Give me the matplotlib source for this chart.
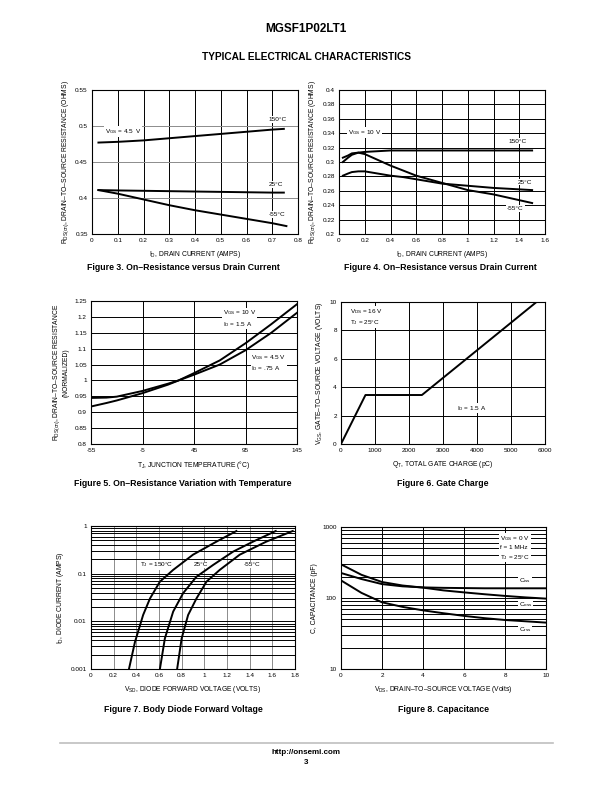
import numpy as np
import matplotlib
matplotlib.use("Agg")
import matplotlib.pyplot as plt

plt.rcParams['font.family'] = ['Liberation Sans', 'DejaVu Sans']
plt.rcParams['mathtext.fontset'] = 'custom'
plt.rcParams['mathtext.rm'] = 'Liberation Sans'
plt.rcParams['mathtext.it'] = 'Liberation Sans:italic'
plt.rcParams['mathtext.bf'] = 'Liberation Sans:bold'

# ---- Figure 3 : RDS(on) vs ID, VGS = 4.5 V
f3_id = [0.025, 0.1, 0.2, 0.3, 0.4, 0.5, 0.6, 0.7, 0.745]
f3_150 = [0.477, 0.478, 0.480, 0.483, 0.486, 0.489, 0.492, 0.495, 0.496]
f3_25 = [0.411, 0.4105, 0.410, 0.4095, 0.409, 0.4085, 0.408, 0.4075, 0.4075]
f3_id_m55 = [0.025, 0.1, 0.2, 0.3, 0.4, 0.5, 0.6, 0.7, 0.755]
f3_m55 = [0.411, 0.406, 0.398, 0.390, 0.383, 0.377, 0.371, 0.365, 0.361]

# ---- Figure 4 : RDS(on) vs ID, VGS = 10 V
f4_id = [0.03, 0.07, 0.1, 0.15, 0.2, 0.3, 0.4, 0.5, 0.6, 0.8, 1.0, 1.2, 1.4, 1.5]
f4_150 = [0.300, 0.306, 0.310, 0.313, 0.314, 0.315, 0.316, 0.316, 0.316, 0.316, 0.316, 0.316, 0.316, 0.316]
f4_25 = [0.281, 0.284, 0.286, 0.287, 0.287, 0.284, 0.281, 0.279, 0.276, 0.270, 0.267, 0.264, 0.262, 0.261]
f4_m55 = [0.306, 0.309, 0.312, 0.313, 0.311, 0.303, 0.295, 0.288, 0.281, 0.271, 0.261, 0.255, 0.247, 0.243]

# ---- Figure 5 : normalized RDS(on) vs TJ
f5_tj = [-55, -40, -30, -5, 20, 30, 45, 70, 95, 120, 145]
f5_10v = [0.918, 0.929, 0.937, 0.960, 0.987, 1.000, 1.023, 1.063, 1.117, 1.177, 1.240]
f5_45v = [0.945, 0.946, 0.949, 0.967, 0.990, 1.000, 1.018, 1.050, 1.095, 1.150, 1.213]

# ---- Figure 6 : gate charge
f6_q = [0, 720, 2380, 5750]
f6_vgs = [0, 3.45, 3.45, 10.0]

# ---- Figure 7 : body diode forward voltage
f7_i = [0.001, 0.0037, 0.0136, 0.03, 0.068, 0.12, 0.25, 0.47, 0.785]
f7_v150 = [0.335, 0.388, 0.46, 0.52, 0.608, 0.725, 0.90, 1.107, 1.283]
f7_i25 = [0.001, 0.0044, 0.016, 0.039, 0.086, 0.152, 0.29, 0.47, 0.785]
f7_v25 = [0.608, 0.652, 0.725, 0.813, 0.93, 1.077, 1.254, 1.43, 1.63]
f7_im55 = [0.001, 0.0044, 0.0136, 0.03, 0.068, 0.12, 0.25, 0.47, 0.785]
f7_vm55 = [0.76, 0.80, 0.857, 0.93, 1.019, 1.136, 1.312, 1.547, 1.78]

# ---- Figure 8 : capacitance
f8_vds = [0, 1, 2, 3, 4, 5, 6, 7, 8, 9, 10]
f8_ciss = [225, 185, 157, 146, 141, 139, 138, 137, 137, 137, 137]
f8_coss = [298, 212, 168, 150, 140, 128, 120, 113, 107, 102, 98]
f8_crss = [177, 118, 87, 75, 67, 61, 56, 52, 49, 47, 45]


def sub(s):
    return r'$\mathregular{_{%s}}$' % s


RDS = 'R' + sub('DS(on)') + ', DRAIN\u2013TO\u2013SOURCE RESISTANCE'
TS = 4.6   # tick font size
LS = 4.9   # label font size
LW = 1.4   # curve width
box = dict(fc='white', ec='none', pad=0.6)


def frame(ax, xlim, ylim, xt, xtl, yt, ytl, xlabel, ylabel, vcol='k', hcol='k', logy=False):
    if logy:
        ax.set_yscale('log')
    ax.set_xlim(xlim)
    ax.set_ylim(ylim)
    ax.set_xticks(xt)
    ax.set_xticklabels(xtl)
    ax.set_yticks(yt)
    ax.set_yticklabels(ytl)
    if logy:
        ax.yaxis.set_minor_locator(matplotlib.ticker.LogLocator(10, subs=np.arange(2, 10)))
        ax.yaxis.set_minor_formatter(matplotlib.ticker.NullFormatter())
        ax.grid(axis='y', which='both', color=hcol, lw=0.7)
    else:
        ax.grid(axis='y', color=hcol, lw=0.7)
    ax.grid(axis='x', color=vcol, lw=0.7)
    ax.tick_params(which='both', length=0, labelsize=TS, pad=3)
    for s in ax.spines.values():
        s.set_linewidth(0.8)
    ax.set_xlabel(xlabel, fontsize=LS, labelpad=4)
    ax.set_ylabel(ylabel, fontsize=LS, labelpad=3)
    ax.set_axisbelow(True)


fig = plt.figure(figsize=(6.12, 7.92), dpi=100)

fig.text(0.5, 1 - 29 / 792, 'MGSF1P02LT1', ha='center', va='center', fontsize=8.5, fontweight='bold')
fig.text(0.5, 1 - 57 / 792, 'TYPICAL ELECTRICAL CHARACTERISTICS', ha='center', va='center',
         fontsize=7.3, fontweight='bold')

# Figure 3
ax = fig.add_axes([92 / 612, 1 - 234 / 792, 206 / 612, 144 / 792])
frame(ax, (0, 0.8), (0.35, 0.55),
      [0, 0.1, 0.2, 0.3, 0.4, 0.5, 0.6, 0.7, 0.8], ['0', '0.1', '0.2', '0.3', '0.4', '0.5', '0.6', '0.7', '0.8'],
      [0.35, 0.4, 0.45, 0.5, 0.55], ['0.35', '0.4', '0.45', '0.5', '0.55'],
      'I' + sub('D') + ', DRAIN CURRENT (AMPS)', RDS + ' (OHMS)', hcol='0.55')
ax.plot(f3_id, f3_150, 'k', lw=LW, zorder=4)
ax.plot(f3_id, f3_25, 'k', lw=LW, zorder=4)
ax.plot(f3_id_m55, f3_m55, 'k', lw=LW, zorder=4)
ax.text(0.05, 0.492, 'V' + sub('GS') + ' = 4.5  V', fontsize=TS, va='center', bbox=box, zorder=3)
ax.text(0.72, 0.509, '150°C', fontsize=TS, ha='center', va='center', bbox=box, zorder=3)
ax.text(0.715, 0.419, '25°C', fontsize=TS, ha='center', va='center', bbox=box, zorder=3)
ax.text(0.72, 0.377, '-55°C', fontsize=TS, ha='center', va='center', bbox=box, zorder=3)
fig.text(183 / 612, 1 - 268 / 792, 'Figure 3. On\u2013Resistance versus Drain Current',
         ha='center', va='center', fontsize=6.3, fontweight='bold')

# Figure 4
ax = fig.add_axes([339 / 612, 1 - 234 / 792, 206 / 612, 144 / 792])
yt4 = [0.2, 0.22, 0.24, 0.26, 0.28, 0.3, 0.32, 0.34, 0.36, 0.38, 0.4]
frame(ax, (0, 1.6), (0.2, 0.4),
      [0, 0.2, 0.4, 0.6, 0.8, 1.0, 1.2, 1.4, 1.6], ['0', '0.2', '0.4', '0.6', '0.8', '1', '1.2', '1.4', '1.6'],
      yt4, ['%g' % v for v in yt4],
      'I' + sub('D') + ', DRAIN CURRENT (AMPS)', RDS + ' (OHMS)')
ax.plot(f4_id, f4_150, 'k', lw=LW, zorder=4)
ax.plot(f4_id, f4_25, 'k', lw=LW, zorder=4)
ax.plot(f4_id, f4_m55, 'k', lw=LW, zorder=4)
ax.text(0.07, 0.341, 'V' + sub('GS') + ' = 10 V', fontsize=TS, va='center', bbox=box, zorder=3)
ax.text(1.39, 0.329, '150°C', fontsize=TS, ha='center', va='center', bbox=box, zorder=3)
ax.text(1.44, 0.272, '25°C', fontsize=TS, ha='center', va='center', bbox=box, zorder=3)
ax.text(1.37, 0.235, '-55°C', fontsize=TS, ha='center', va='center', bbox=box, zorder=3)
fig.text(440 / 612, 1 - 267 / 792, 'Figure 4. On\u2013Resistance versus Drain Current',
         ha='center', va='center', fontsize=6.3, fontweight='bold')

# Figure 5
ax = fig.add_axes([91 / 612, 1 - 444 / 792, 206 / 612, 143 / 792])
yt5 = [0.8, 0.85, 0.9, 0.95, 1.0, 1.05, 1.1, 1.15, 1.2, 1.25]
frame(ax, (-55, 145), (0.8, 1.25),
      [-55, -5, 45, 95, 145], ['-55', '-5', '45', '95', '145'],
      yt5, ['%g' % v for v in yt5],
      'T' + sub('J') + ', JUNCTION TEMPERATURE (°C)', RDS + '\n(NORMALIZED)')
ax.plot(f5_tj, f5_10v, 'k', lw=LW, zorder=4)
ax.plot(f5_tj, f5_45v, 'k', lw=LW, zorder=4)
ax.text(73, 1.195, 'V' + sub('GS') + ' = 10 V\nI' + sub('D') + ' = 1.5 A', fontsize=TS, va='center',
        linespacing=1.4, bbox=box, zorder=3)
ax.text(100.7, 1.054, 'V' + sub('GS') + ' = 4.5 V\nI' + sub('D') + ' = .75 A', fontsize=TS, va='center',
        linespacing=1.4, bbox=box, zorder=3)
fig.text(183 / 612, 1 - 483 / 792, 'Figure 5. On\u2013Resistance Variation with Temperature',
         ha='center', va='center', fontsize=6.3, fontweight='bold')

# Figure 6
ax = fig.add_axes([341 / 612, 1 - 444 / 792, 204 / 612, 142 / 792])
frame(ax, (0, 6000), (0, 10),
      [0, 1000, 2000, 3000, 4000, 5000, 6000], ['0', '1000', '2000', '3000', '4000', '5000', '6000'],
      [0, 2, 4, 6, 8, 10], ['0', '2', '4', '6', '8', '10'],
      'Q' + sub('T') + ', TOTAL GATE CHARGE (pC)',
      'V' + sub('GS') + ', GATE\u2013TO\u2013SOURCE VOLTAGE (VOLTS)')
ax.plot(f6_q, f6_vgs, 'k', lw=LW, zorder=4)
ax.text(274, 8.95, 'V' + sub('DS') + ' = 16 V\nT' + sub('J') + ' = 25°C', fontsize=TS, va='center',
        linespacing=1.4, bbox=box, zorder=3)
ax.text(3406, 2.52, 'I' + sub('D') + ' = 1.5 A', fontsize=TS, va='center', bbox=box, zorder=3)
fig.text(443 / 612, 1 - 483 / 792, 'Figure 6. Gate Charge',
         ha='center', va='center', fontsize=6.3, fontweight='bold')

# Figure 7
ax = fig.add_axes([91 / 612, 1 - 669 / 792, 204 / 612, 143 / 792])
frame(ax, (0, 1.8), (0.001, 1),
      [0, 0.2, 0.4, 0.6, 0.8, 1.0, 1.2, 1.4, 1.6, 1.8],
      ['0', '0.2', '0.4', '0.6', '0.8', '1', '1.2', '1.4', '1.6', '1.8'],
      [0.001, 0.01, 0.1, 1], ['0.001', '0.01', '0.1', '1'],
      'V' + sub('SD') + ', DIODE FORWARD VOLTAGE (VOLTS)', 'I' + sub('D') + ', DIODE CURRENT (AMPS)',
      vcol='0.55', logy=True)
ax.plot(f7_v150, f7_i, 'k', lw=LW, zorder=4)
ax.plot(f7_v25, f7_i25, 'k', lw=LW, zorder=4)
ax.plot(f7_vm55, f7_im55, 'k', lw=LW, zorder=4)
ax.text(0.43, 0.152, 'T' + sub('J') + ' = 150°C', fontsize=TS, va='center', bbox=box, zorder=3)
ax.text(0.97, 0.152, '25°C', fontsize=TS, ha='center', va='center', bbox=box, zorder=3)
ax.text(1.42, 0.152, '-55°C', fontsize=TS, ha='center', va='center', bbox=box, zorder=3)
fig.text(183 / 612, 1 - 709 / 792, 'Figure 7. Body Diode Forward Voltage',
         ha='center', va='center', fontsize=6.3, fontweight='bold')

# Figure 8
ax = fig.add_axes([341 / 612, 1 - 669 / 792, 205 / 612, 142 / 792])
frame(ax, (0, 10), (10, 1000),
      [0, 2, 4, 6, 8, 10], ['0', '2', '4', '6', '8', '10'],
      [10, 100, 1000], ['10', '100', '1000'],
      'V' + sub('DS') + ', DRAIN\u2013TO\u2013SOURCE VOLTAGE (Volts)', 'C, CAPACITANCE (pF)', logy=True)
ax.plot(f8_vds, f8_ciss, 'k', lw=LW, zorder=4)
ax.plot(f8_vds, f8_coss, 'k', lw=LW, zorder=4)
ax.plot(f8_vds, f8_crss, 'k', lw=LW, zorder=4)
ax.text(7.77, 510, 'V' + sub('GS') + ' = 0 V\nf = 1 MHz\nT' + sub('J') + ' = 25°C', fontsize=TS,
        va='center', linespacing=1.5, bbox=box, zorder=3)
ax.text(8.67, 177, 'C' + sub('iss'), fontsize=TS, va='center', bbox=box, zorder=3)
ax.text(8.67, 82, 'C' + sub('oss'), fontsize=TS, va='center', bbox=box, zorder=3)
ax.text(8.67, 36, 'C' + sub('rss'), fontsize=TS, va='center', bbox=box, zorder=3)
fig.text(443 / 612, 1 - 709 / 792, 'Figure 8. Capacitance',
         ha='center', va='center', fontsize=6.3, fontweight='bold')

# footer
fig.add_artist(matplotlib.lines.Line2D([60 / 612, 553 / 612], [1 - 743 / 792, 1 - 743 / 792],
                                       color='0.75', lw=1.2))
fig.text(0.5, 1 - 752 / 792, 'http://onsemi.com', ha='center', va='center', fontsize=5.8, fontweight='bold')
fig.text(0.5, 1 - 762 / 792, '3', ha='center', va='center', fontsize=5.8, fontweight='bold')

fig.savefig('out.png', dpi=100)
